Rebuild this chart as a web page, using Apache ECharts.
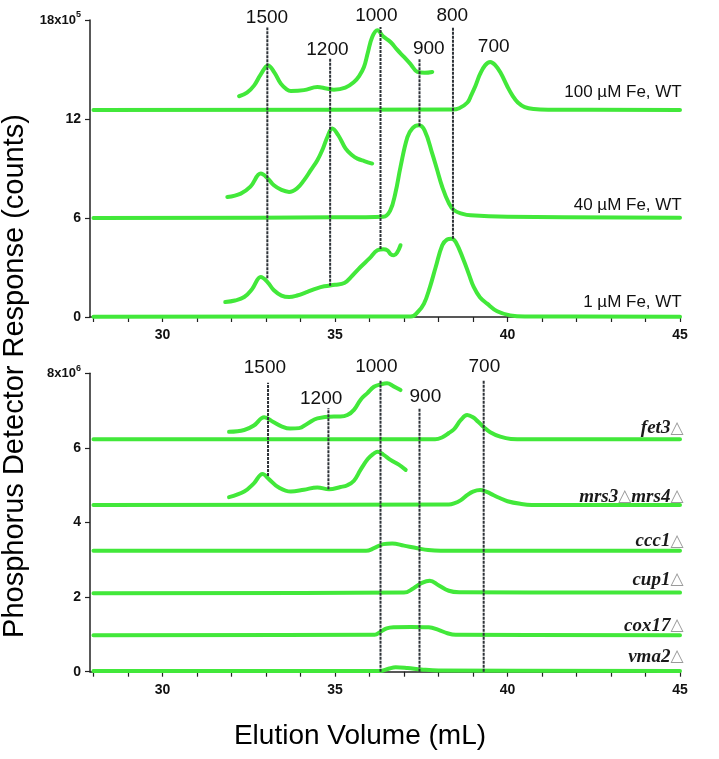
<!DOCTYPE html>
<html>
<head>
<meta charset="utf-8">
<script src="https://cdn.jsdelivr.net/npm/echarts@6/dist/echarts.min.js"></script>
<style>html,body{margin:0;padding:0;background:#fff}#c{width:719px;height:759px}</style>
</head>
<body>
<div id="c"></div>
<script>
// ---------- data ----------
const xTickValues = [28,29,30,31,32,33,34,35,36,37,38,39,40,41,42,43,44,45];
const xLabelValues = [30,35,40,45];

// Top panel (x10^5 counts)
const wt100Main = [[28,12.55],[38.4,12.57],[38.6,12.65],[38.84,13.0],[38.95,13.45],[39.07,14.0],[39.2,14.7],[39.35,15.25],[39.5,15.45],[39.65,15.25],[39.8,14.8],[39.99,14.0],[40.15,13.4],[40.3,13.0],[40.5,12.72],[40.76,12.6],[41.2,12.56],[45,12.55]];
const wt40Main = [[28,6.0],[35,6.04],[36.4,6.08],[36.6,6.45],[36.75,7.5],[36.9,9.1],[37.1,10.9],[37.25,11.45],[37.43,11.62],[37.6,11.3],[37.82,9.9],[37.95,9.0],[38.11,7.88],[38.3,6.9],[38.45,6.47],[38.7,6.25],[38.93,6.16],[40,6.08],[45,6.02]];
const wt1Main = [[28,0.02],[37.2,0.03],[37.4,0.3],[37.58,0.81],[37.75,1.8],[37.92,3.03],[38.11,4.35],[38.25,4.7],[38.37,4.75],[38.5,4.55],[38.73,3.44],[38.88,2.6],[39.02,1.82],[39.2,1.2],[39.41,0.81],[39.7,0.35],[40.08,0.1],[40.5,0.03],[45,0.02]];
const wt100Inset = [[32.22,13.38],[32.45,13.6],[32.66,14.04],[32.85,14.7],[33.06,15.25],[33.25,14.8],[33.43,14.14],[33.6,13.8],[33.72,13.7],[34.1,13.75],[34.49,13.94],[34.75,13.85],[34.97,13.78],[35.3,13.9],[35.55,14.24],[35.7,14.6],[35.84,15.15],[35.95,16.0],[36.08,16.97],[36.23,17.38],[36.4,17.0],[36.61,16.67],[36.8,16.2],[37.0,15.76],[37.2,15.3],[37.39,14.85],[37.6,14.8],[37.82,14.85]];
const wt40Inset = [[31.88,7.27],[32.27,7.48],[32.55,7.9],[32.85,8.69],[33.05,8.4],[33.23,7.98],[33.45,7.7],[33.67,7.58],[33.9,7.8],[34.1,8.28],[34.3,8.9],[34.49,9.5],[34.65,10.2],[34.78,10.91],[34.92,11.42],[35.1,11.0],[35.31,10.2],[35.5,9.8],[35.65,9.6],[35.85,9.45],[36.08,9.3]];
const wt1Inset = [[31.82,0.91],[32.1,1.0],[32.37,1.21],[32.6,1.7],[32.85,2.42],[33.05,2.1],[33.23,1.62],[33.45,1.3],[33.67,1.21],[33.9,1.3],[34.2,1.52],[34.45,1.72],[34.69,1.86],[35.0,1.95],[35.27,2.06],[35.5,2.5],[35.74,3.03],[36.0,3.55],[36.23,4.04],[36.4,4.1],[36.52,4.04],[36.62,3.8],[36.71,3.74],[36.8,3.9],[36.9,4.35]];
const topCurveNames = ['100 µM Fe, WT','40 µM Fe, WT','1 µM Fe, WT'];
const topCurveLabelY = [13.6, 6.77, 0.91];

// Bottom panel (x10^6 counts)
const fet3Main = [[28,6.23],[37.9,6.23],[38.1,6.28],[38.3,6.4],[38.45,6.5],[38.65,6.75],[38.83,6.88],[39.0,6.82],[39.15,6.7],[39.31,6.56],[39.5,6.42],[39.79,6.3],[40.1,6.24],[40.5,6.23],[45,6.23]];
const fet3Inset = [[31.93,6.43],[32.37,6.48],[32.65,6.6],[32.95,6.82],[33.2,6.7],[33.45,6.58],[33.7,6.52],[33.96,6.53],[34.2,6.65],[34.49,6.79],[34.97,6.84],[35.16,6.84],[35.36,6.88],[35.55,7.02],[35.75,7.3],[35.94,7.47],[36.13,7.64],[36.32,7.7],[36.51,7.73],[36.7,7.65],[36.9,7.55]];
const mrsMain = [[28,4.47],[38.3,4.48],[38.45,4.51],[38.65,4.6],[38.84,4.74],[39.0,4.83],[39.21,4.87],[39.4,4.82],[39.6,4.73],[39.79,4.65],[40.0,4.57],[40.37,4.5],[40.7,4.47],[45,4.47]];
const mrsInset = [[31.93,4.68],[32.37,4.83],[32.65,5.05],[32.9,5.3],[33.1,5.15],[33.35,4.95],[33.72,4.83],[34.1,4.88],[34.49,4.94],[34.83,4.89],[35.16,4.95],[35.36,5.0],[35.55,5.12],[35.74,5.41],[35.95,5.7],[36.13,5.85],[36.23,5.9],[36.4,5.82],[36.61,5.68],[36.85,5.55],[37.05,5.41]];
const ccc1 = [[28,3.24],[35.9,3.24],[36.13,3.31],[36.4,3.42],[36.66,3.44],[37.0,3.38],[37.39,3.31],[37.7,3.26],[38.06,3.24],[45,3.24]];
const cup1 = [[28,2.1],[37.0,2.12],[37.28,2.24],[37.52,2.38],[37.75,2.44],[38.0,2.32],[38.3,2.17],[38.6,2.13],[45,2.12]];
const cox17 = [[28,0.98],[36.15,0.99],[36.32,1.07],[36.5,1.16],[36.71,1.19],[37.2,1.2],[37.72,1.19],[38.0,1.12],[38.26,1.03],[38.5,0.99],[45,0.98]];
const vma2 = [[28,0.02],[36.3,0.02],[36.55,0.08],[36.76,0.12],[37.1,0.1],[37.5,0.06],[38.0,0.03],[45,0.02]];
const bottomCurveNames = ['fet3','mrs3|mrs4','ccc1','cup1','cox17','vma2'];
const bottomCurveLabelY = [6.52, 4.69, 3.49, 2.46, 1.23, 0.40];

// marker lines
const topMarkerX = [33.04, 34.86, 36.32, 37.45, 38.42];
const topMarkerTop = [17.55, 15.66, 17.58, 15.66, 17.58];
const topMarkerBottom = [2.35, 1.9, 4.12, 11.56, 4.75];
const bottomMarkerX = [33.06, 34.81, 36.32, 37.45, 39.31];
const bottomMarkerTop = [7.75, 7.06, 7.82, 7.06, 7.82];
const bottomMarkerBottom = [5.25, 4.89, 0.0, 0.0, 0.0];

// size labels
const topSizeText = ['1500','1200','1000','900','800','700'];
const topSizeX = [33.03, 34.78, 36.2, 37.72, 38.4, 39.6];
const topSizeY = [18.16, 16.22, 18.28, 16.28, 18.28, 16.35];
const bottomSizeText = ['1500','1200','1000','900','700'];
const bottomSizeX = [32.97, 34.6, 36.2, 37.62, 39.33];
const bottomSizeY = [8.16, 7.33, 8.18, 7.36, 8.18];

// ---------- chart ----------
const GREEN = '#42e83a';
const FONT = 'Liberation Sans, Arial, sans-serif';
const chart = echarts.init(document.getElementById('c'), null, {renderer:'canvas'});

function xAxisCfg(gi){
  return {
    gridIndex: gi, type:'value', min:27.9, max:45,
    axisLine:{show:true, onZero:false, lineStyle:{color:'#222', width:1.5}},
    axisTick:{show:true, customValues:xTickValues, length:5, lineStyle:{color:'#222', width:1.2}},
    axisLabel:{customValues:xLabelValues, margin:11, fontSize:14, fontWeight:'bold', color:'#111', fontFamily:FONT},
    splitLine:{show:false}
  };
}
function yAxisCfg(gi, max, interval, exp){
  return {
    gridIndex: gi, type:'value', min:0, max:max, interval:interval,
    axisLine:{show:true, lineStyle:{color:'#222', width:1.5}},
    axisTick:{show:true, length:5, lineStyle:{color:'#222', width:1.2}},
    axisLabel:{
      margin:9, fontSize:14, fontWeight:'bold', color:'#111', fontFamily:FONT,
      formatter: v => v === max ? '{b|' + max + 'x10}{s|' + exp + '}' : String(v),
      rich:{
        b:{fontSize:13, fontWeight:'bold', color:'#111', fontFamily:FONT},
        s:{fontSize:9, fontWeight:'bold', color:'#111', fontFamily:FONT, padding:[0,0,10,0]}
      }
    },
    splitLine:{show:false}
  };
}

const series = [];
function curve(data, gi){
  series.push({type:'line', xAxisIndex:gi, yAxisIndex:gi, data:data, smooth:0.4,
    showSymbol:false, symbol:'none', lineStyle:{width:4, color:GREEN, cap:'round', join:'round'}, z:2, animation:false, silent:true});
}
[wt100Main, wt40Main, wt1Main, wt100Inset, wt40Inset, wt1Inset].forEach(d => curve(d, 0));
[fet3Main, fet3Inset, mrsMain, mrsInset, ccc1, cup1, cox17, vma2].forEach(d => curve(d, 1));

function markers(xs, tops, bottoms, gi){
  xs.forEach((x, i) => {
    series.push({type:'line', xAxisIndex:gi, yAxisIndex:gi, data:[[x, bottoms[i]],[x, tops[i]]],
      showSymbol:false, symbol:'none', lineStyle:{width:2, color:'#2e3338', type:[3,1]}, z:5, animation:false, silent:true, clip:false});
  });
}
markers(topMarkerX, topMarkerTop, topMarkerBottom, 0);
markers(bottomMarkerX, bottomMarkerTop, bottomMarkerBottom, 1);

function sizeLabels(texts, xs, ys, gi){
  series.push({type:'scatter', xAxisIndex:gi, yAxisIndex:gi, symbolSize:0, clip:false, z:6, animation:false, silent:true,
    itemStyle:{opacity:1},
    data: texts.map((t,i) => ({value:[xs[i], ys[i]], name:t})),
    label:{show:true, position:'inside', formatter: p => p.name, fontSize:19, color:'#111', opacity:1, textBorderWidth:0, fontFamily:FONT}});
}
sizeLabels(topSizeText, topSizeX, topSizeY, 0);
sizeLabels(bottomSizeText, bottomSizeX, bottomSizeY, 1);

// curve names at right
series.push({type:'scatter', xAxisIndex:0, yAxisIndex:0, symbolSize:0, clip:false, z:6, animation:false, silent:true,
  itemStyle:{opacity:1},
  data: topCurveNames.map((t,i) => ({value:[45.05, topCurveLabelY[i]], name:t})),
  label:{show:true, position:'left', distance:0, formatter: p => p.name, fontSize:17, color:'#111', opacity:1, fontFamily:FONT}});
series.push({type:'scatter', xAxisIndex:1, yAxisIndex:1, symbolSize:0, clip:false, z:6, animation:false, silent:true,
  itemStyle:{opacity:1},
  data: bottomCurveNames.map((t,i) => ({value:[45.1, bottomCurveLabelY[i]], name:t})),
  label:{show:true, position:'left', distance:0, opacity:1,
    formatter: p => p.name.split('|').map(s => '{n|' + s + '}{t|△}').join(''),
    rich:{
      n:{fontSize:19, fontStyle:'italic', fontWeight:'bold', color:'#1a1a1a', fontFamily:'Liberation Serif, Times New Roman, serif'},
      t:{fontSize:17, color:'#9a9a9a', fontFamily:'DejaVu Sans'}
    }}});

chart.setOption({
  backgroundColor:'#fff',
  animation:false,
  grid:[
    {left:90, right:39, top:20, height:297, containLabel:false},
    {left:90, right:39, top:373.3, height:298.4, containLabel:false}
  ],
  xAxis:[xAxisCfg(0), xAxisCfg(1)],
  yAxis:[yAxisCfg(0, 18, 6, 5), yAxisCfg(1, 8, 2, 6)],
  series: series,
  graphic:[
    {type:'text', x:15, y:376, rotation:Math.PI/2,
      style:{text:'Phosphorus Detector Response (counts)', fontSize:29, fontFamily:FONT, fill:'#000',
        align:'center', verticalAlign:'middle', textAlign:'center', textVerticalAlign:'middle'}},
    {type:'text', x:360, y:736,
      style:{text:'Elution Volume (mL)', fontSize:28, fontFamily:FONT, fill:'#000',
        align:'center', verticalAlign:'middle', textAlign:'center', textVerticalAlign:'middle'}}
  ]
});
</script>
</body>
</html>
